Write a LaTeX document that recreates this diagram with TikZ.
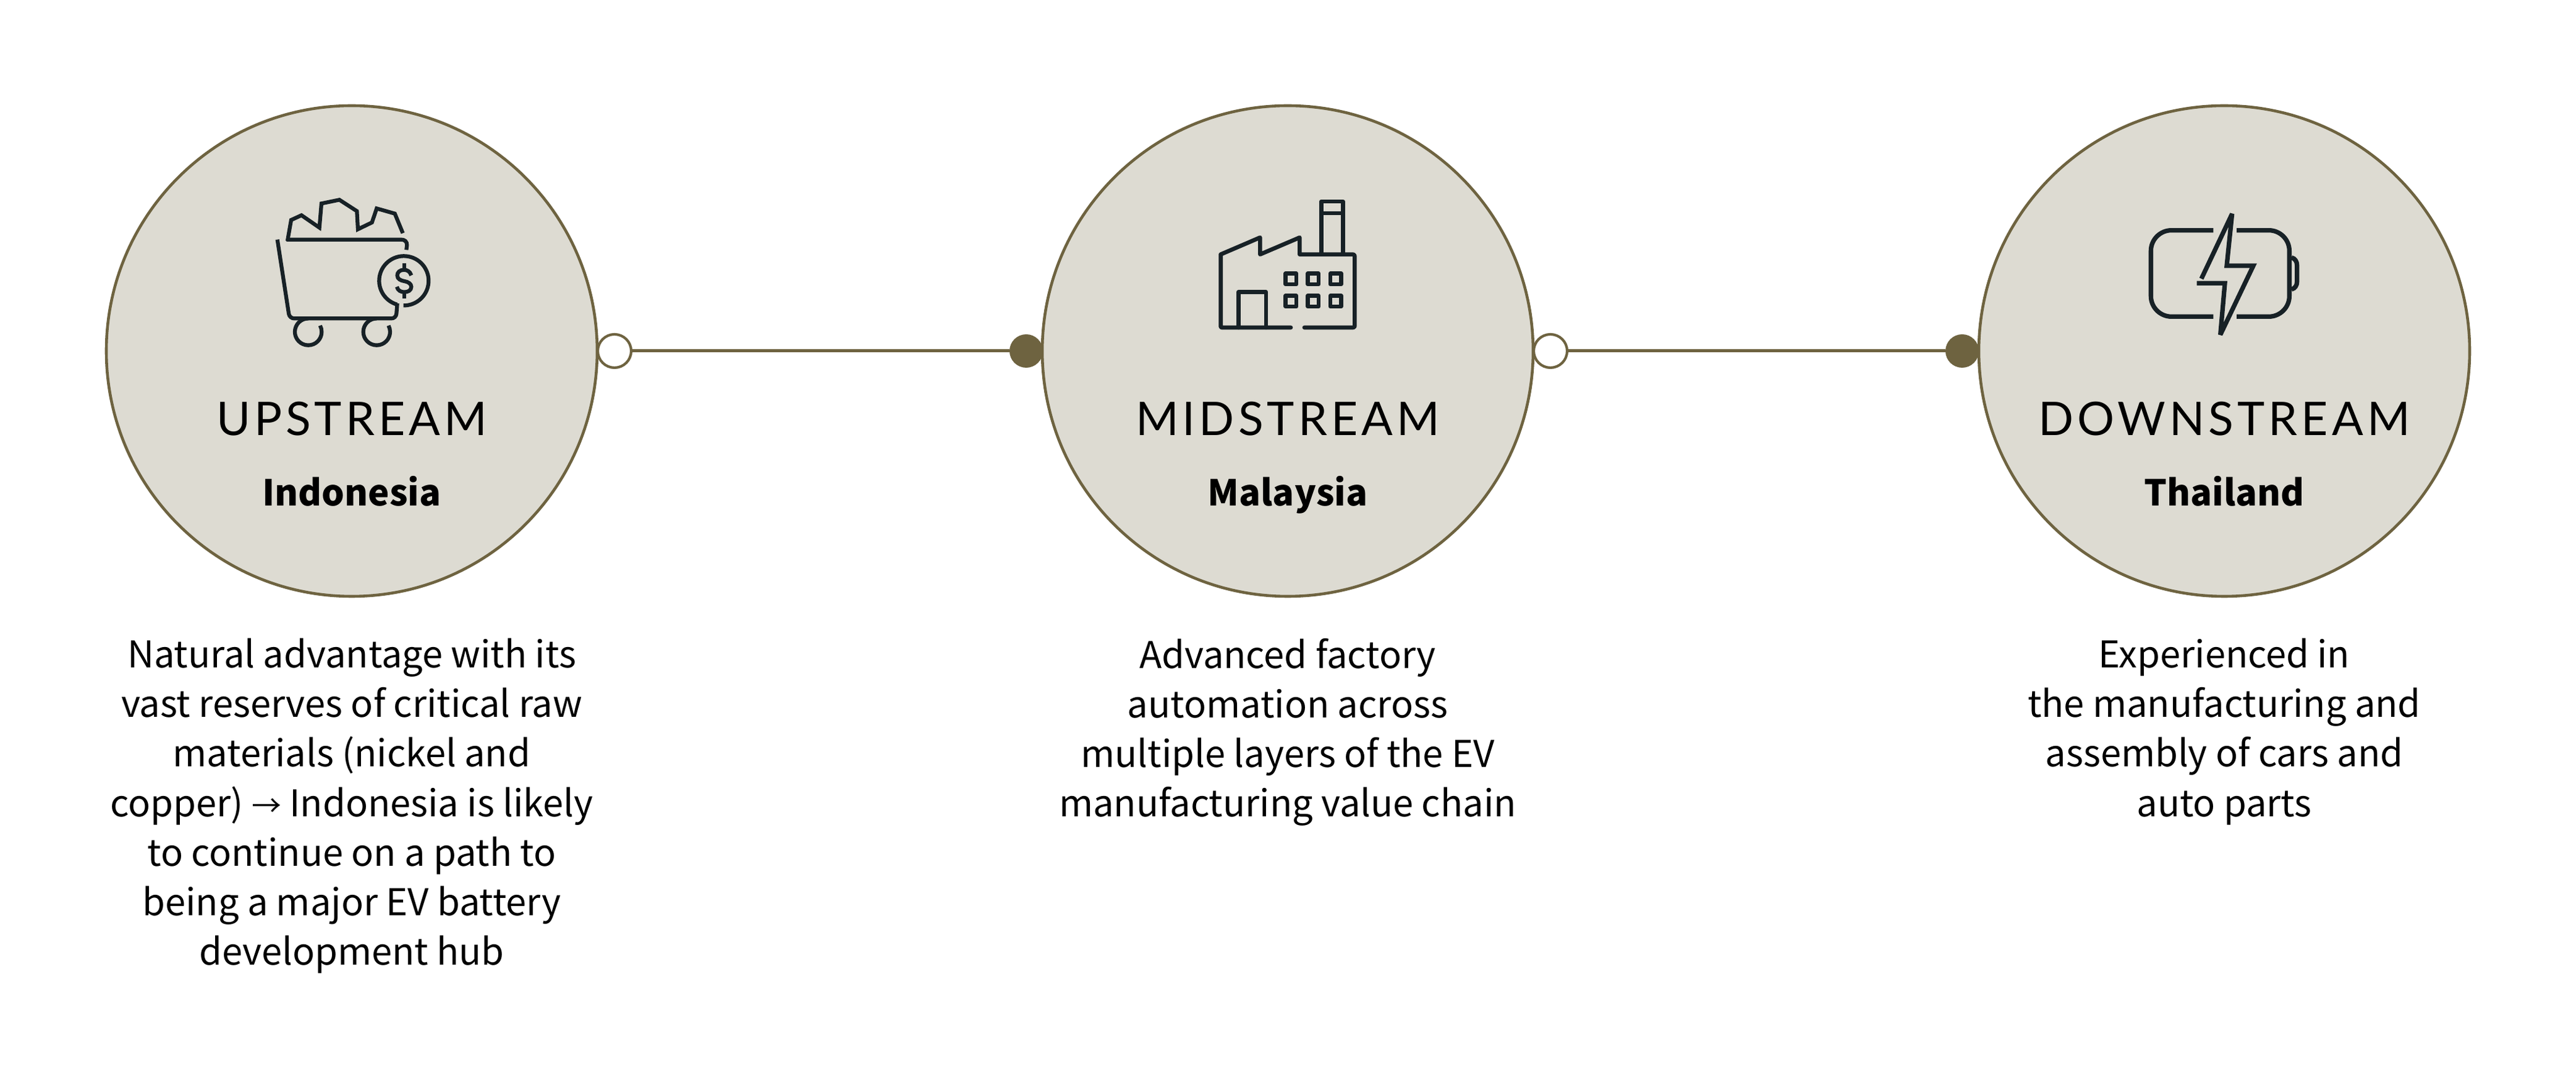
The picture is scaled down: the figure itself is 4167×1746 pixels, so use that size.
\documentclass[tikz,border=0pt]{standalone}
\usepackage{fontspec}
\setmainfont{Noto Sans CJK JP}
\newfontfamily\bodyfont{Noto Sans CJK JP}
\newfontfamily\headfont[LetterSpace=8]{Lato}
\definecolor{ringc}{HTML}{6E6340}
\definecolor{discc}{HTML}{DDDBD2}
\definecolor{iconc}{HTML}{172126}
\tikzset{
 bigdisc/.style={circle,draw=ringc,fill=discc,line width=1.1pt,minimum size=794*0.24pt,inner sep=0pt,outer sep=0pt},
 opendot/.style={circle,draw=ringc,fill=white,line width=1pt,minimum size=54*0.24pt,inner sep=0pt,outer sep=0pt},
 soliddot/.style={circle,fill=ringc,minimum size=54*0.24pt,inner sep=0pt,outer sep=0pt},
 link/.style={draw=ringc,line width=1.2pt},
 headtext/.style={font=\headfont\fontsize{18pt}{22pt}\selectfont,text=black,anchor=base,inner sep=0pt},
 placetext/.style={font=\bodyfont\bfseries\fontsize{13.9pt}{17pt}\selectfont,text=black,anchor=base,inner sep=0pt},
 desctext/.style={font=\bodyfont\fontsize{14.3pt}{19.27pt}\selectfont,text=black,align=center,anchor=north,inner sep=0pt},
 iconline/.style={draw=iconc,line width=1.5pt,line join=miter},
 boltline/.style={draw=iconc,line width=1.75pt,line join=miter,miter limit=3},
 factoryline/.style={draw=iconc,line width=1.6pt,line join=round,line cap=round},
}
\begin{document}
\begin{tikzpicture}[x=0.24pt,y=-0.24pt]
\useasboundingbox (0,0) rectangle (4167,1746);
\fill[white] (0,0) rectangle (4167,1746);
\node[bigdisc] (d1) at (569,568) {};
\node[bigdisc] (d2) at (2083,568) {};
\node[bigdisc] (d3) at (3598,568) {};
\node[opendot] (o1) at (994,568) {};
\node[soliddot] (s2) at (1660,568) {};
\node[opendot] (o2) at (2508,568) {};
\node[soliddot] (s3) at (3174,568) {};
\draw[link] (o1) -- (s2);
\draw[link] (o2) -- (s3);
% labels
\node[headtext] (h1) at (569,705) {UPSTREAM};
\node[headtext] (h2) at (2083,705) {MIDSTREAM};
\node[headtext] (h3) at (3598,705) {DOWNSTREAM};
\node[placetext] (p1) at (569,819) {Indonesia};
\node[placetext] (p2) at (2083,819) {Malaysia};
\node[placetext] (p3) at (3598,819) {Thailand};
\node[desctext] (t1) at (569,1032) {Natural advantage with its\\vast reserves of critical raw\\materials (nickel and\\copper) {\fontsize{11.5pt}{19pt}\selectfont →} Indonesia is likely\\to continue on a path to\\being a major EV battery\\development hub};
\node[desctext] (t2) at (2083,1032) {Advanced factory\\automation across\\multiple layers of the EV\\manufacturing value chain};
\node[desctext] (t3) at (3598,1032) {Experienced in\\the manufacturing and\\assembly of cars and\\auto parts};
% cart icon
\begin{scope}[shift={(400,290)},x=0.08pt,y=-0.08pt]
\draw[iconline] (195,300)--(213,198)--(263,175)--(350,235)--(360,118)--(447,100)--(532,155)--(537,243)--(605,210)--(628,142)--(716,167)--(755,262);
\draw[iconline] (190,293)--(745,293) .. controls (765,293) and (775,303) .. (775,320)--(772,343);
\draw[iconline,rounded corners=1.8pt] (146,293)--(205,676)--(722,676)--(728,603);
\draw[iconline] (760,493) ++(106:120) arc[start angle=106,end angle=451,radius=120];
\draw[iconline] (761,408)--(761,438);
\draw[iconline] (761,550)--(761,580);
\draw[iconline] (796,467) .. controls (790,447) and (775,440) .. (760,440) .. controls (740,440) and (728,452) .. (728,467) .. controls (728,485) and (745,492) .. (762,495) .. controls (780,498) and (796,507) .. (796,522) .. controls (796,540) and (780,548) .. (762,548) .. controls (745,548) and (730,540) .. (726,522);
\draw[iconline] (296,676) arc[start angle=270,end angle=-28,radius=65];
\draw[iconline] (628,676) arc[start angle=270,end angle=-28,radius=65];
\end{scope}
% factory icon
\begin{scope}[shift={(1940,300)},x=0.08pt,y=-0.08pt]
\draw[factoryline] (444,690)--(110,690) .. controls (106,690) and (104,688) .. (104,684)--(104,335)--(295,253)--(295,335)--(487,253)--(487,335)--(745,335) .. controls (751,335) and (754,338) .. (754,344)--(754,682) .. controls (754,688) and (751,690) .. (745,690)--(510,690);
\draw[factoryline] (592,335)--(592,78)--(697,78)--(697,335);
\draw[factoryline] (592,135)--(697,135);
\draw[factoryline] (190,690)--(190,518)--(324,518)--(324,690);
\foreach \wx in {445,553,662}{\foreach \wy in {454,562}{
 \draw[factoryline] (\wx-26,\wy-26) rectangle (\wx+26,\wy+26);}}
\end{scope}
% battery icon
\begin{scope}[shift={(3450,320)},x=0.08pt,y=-0.08pt]
\draw[boltline,rounded corners=8pt] (391,158)--(88,158)--(88,577)--(391,577);
\draw[boltline,rounded corners=8pt] (504,158)--(760,158)--(760,577)--(504,577);
\draw[boltline] (770,290) .. controls (788,295) and (797,310) .. (797,328)--(797,408) .. controls (797,425) and (788,440) .. (770,445);
\draw[boltline] (333,393)--(482,78)--(456,330)--(585,330)--(425,665)--(447,415)--(311,415);
\end{scope}
\end{tikzpicture}
\end{document}
